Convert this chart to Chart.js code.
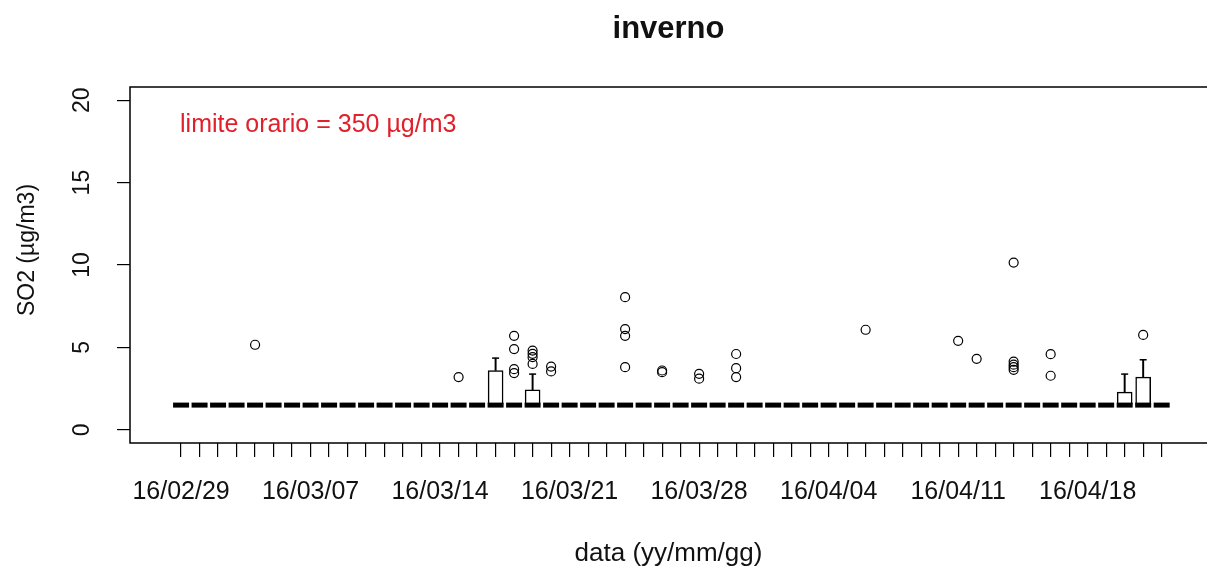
<!DOCTYPE html>
<html>
<head>
<meta charset="utf-8">
<script src="https://cdn.jsdelivr.net/npm/chart.js@4.4.1/dist/chart.umd.min.js"></script>
<style>
  body { margin: 0; background: #fff; }
</style>
</head>
<body>
<canvas id="myChart" width="1207" height="571"></canvas>
<script>
// one category per day, 16/02/29 .. 16/04/22
const days = [
  "16/02/29",
  "16/03/01", "16/03/02", "16/03/03", "16/03/04", "16/03/05", "16/03/06", "16/03/07",
  "16/03/08", "16/03/09", "16/03/10", "16/03/11", "16/03/12", "16/03/13", "16/03/14",
  "16/03/15", "16/03/16", "16/03/17", "16/03/18", "16/03/19", "16/03/20", "16/03/21",
  "16/03/22", "16/03/23", "16/03/24", "16/03/25", "16/03/26", "16/03/27", "16/03/28",
  "16/03/29", "16/03/30", "16/03/31",
  "16/04/01", "16/04/02", "16/04/03", "16/04/04", "16/04/05", "16/04/06", "16/04/07",
  "16/04/08", "16/04/09", "16/04/10", "16/04/11", "16/04/12", "16/04/13", "16/04/14",
  "16/04/15", "16/04/16", "16/04/17", "16/04/18", "16/04/19", "16/04/20", "16/04/21",
  "16/04/22"
];

// daily medians (most days are flat at the detection limit)
const medians = [
  1.5,
  1.5, 1.5, 1.5, 1.5, 1.5, 1.5, 1.5,
  1.5, 1.5, 1.5, 1.5, 1.5, 1.5, 1.5,
  1.5, 1.5, 1.5, 1.5, 1.5, 1.5, 1.5,
  1.5, 1.5, 1.5, 1.5, 1.5, 1.5, 1.5,
  1.5, 1.5, 1.5,
  1.5, 1.5, 1.5, 1.5, 1.5, 1.5, 1.5,
  1.5, 1.5, 1.5, 1.5, 1.5, 1.5, 1.5,
  1.5, 1.5, 1.5, 1.5, 1.5, 1.5, 1.5,
  1.5
];

// days whose box is not flat (index into days)
const boxDays = [17, 19, 51, 52];
const boxQ1 = [1.5, 1.5, 1.5, 1.5];
const boxQ3 = [3.6, 2.43, 2.29, 3.2];
const whiskerTop = [4.35, 3.38, 3.38, 4.25];

// outliers
const outlierDays = [
  4, 15,
  18, 18, 18, 18,
  19, 19, 19, 19,
  20, 20,
  24, 24, 24, 24,
  26, 26,
  28, 28,
  30, 30, 30,
  37, 42, 43,
  45, 45, 45, 45, 45,
  47, 47,
  52
];
const outlierValues = [
  5.16, 3.2,
  5.7, 4.9, 3.68, 3.44,
  4.81, 4.61, 4.41, 4.0,
  3.84, 3.54,
  8.05, 6.11, 5.7, 3.8,
  3.6, 3.5,
  3.4, 3.1,
  4.6, 3.74, 3.2,
  6.07, 5.4, 4.31,
  10.15, 4.14, 3.95, 3.8, 3.64,
  4.59, 3.28,
  5.76
];

const yTicks = [0, 5, 10, 15, 20];
const labelEvery = 7;

const medianData = medians.map((v, i) => ({ x: i, y: v }));
const boxData = boxDays.map((d, i) => ({ x: d, y: [boxQ1[i], boxQ3[i]] }));
const whiskerData = boxDays.map((d, i) => ({ x: d, y: [boxQ3[i], whiskerTop[i]] }));
const capData = boxDays.map((d, i) => ({ x: d, y: whiskerTop[i] }));
const outlierData = outlierDays.map((d, i) => ({ x: d, y: outlierValues[i] }));

const FONT = "Liberation Sans, Arial, sans-serif";

// frame, titles, rotated y labels and the red note
const textPlugin = {
  id: "rText",
  afterDraw(chart) {
    const { ctx, chartArea: a, scales: { x, y } } = chart;
    ctx.save();
    ctx.strokeStyle = "#000";
    ctx.lineWidth = 1.5;
    ctx.beginPath();
    ctx.moveTo(a.right + 2, a.top);
    ctx.lineTo(a.left, a.top);
    ctx.lineTo(a.left, a.bottom);
    ctx.lineTo(a.right + 2, a.bottom);
    ctx.stroke();

    const midX = (a.left + a.right) / 2;
    ctx.fillStyle = "#111";
    ctx.textAlign = "center";
    ctx.textBaseline = "alphabetic";
    ctx.font = "bold 31px " + FONT;
    ctx.fillText("inverno", midX, 38);

    ctx.font = "26px " + FONT;
    ctx.fillText("data (yy/mm/gg)", midX, 561);

    ctx.font = "23px " + FONT;
    yTicks.forEach(v => {
      ctx.save();
      ctx.translate(89, y.getPixelForValue(v));
      ctx.rotate(-Math.PI / 2);
      ctx.fillText(String(v), 0, 0);
      ctx.restore();
    });

    ctx.save();
    ctx.translate(34, 250);
    ctx.rotate(-Math.PI / 2);
    ctx.fillText("SO2 (µg/m3)", 0, 0);
    ctx.restore();

    ctx.fillStyle = "#e0202a";
    ctx.textAlign = "left";
    ctx.font = "25px " + FONT;
    ctx.fillText("limite orario = 350 µg/m3", x.getPixelForValue(0) - 1, y.getPixelForValue(18) - 1);
    ctx.restore();
  }
};

new Chart("myChart", {
  type: "bar",
  data: {
    datasets: [
      {
        type: "line", data: medianData, showLine: false,
        pointStyle: "line", pointRadius: 8, pointBorderWidth: 5,
        pointBorderColor: "#000", order: 0
      },
      {
        type: "bar", data: boxData, backgroundColor: "#fff",
        borderColor: "#000", borderWidth: 1.5, borderSkipped: false,
        barThickness: 15, grouped: false, order: 1
      },
      {
        type: "bar", data: whiskerData, backgroundColor: "#000",
        borderWidth: 0, barThickness: 1.3, grouped: false, order: 2
      },
      {
        type: "line", data: capData, showLine: false,
        pointStyle: "line", pointRadius: 3.5, pointBorderWidth: 1.5,
        pointBorderColor: "#000", order: 3
      },
      {
        type: "line", data: outlierData, showLine: false,
        pointStyle: "circle", pointRadius: 4.5, pointBorderWidth: 1.2,
        pointBorderColor: "#000", pointBackgroundColor: "rgba(0,0,0,0)", order: 4
      }
    ]
  },
  options: {
    responsive: false,
    devicePixelRatio: 1,
    animation: false,
    events: [],
    // the right side of the R plot frame runs up to the image edge
    layout: { autoPadding: false, padding: { top: 87, right: 0, left: 0, bottom: 0 } },
    plugins: {
      legend: { display: false },
      title: { display: false },
      tooltip: { enabled: false }
    },
    scales: {
      x: {
        type: "linear",
        min: -2.76,
        max: 55.45,
        offset: false,
        afterBuildTicks: s => { s.ticks = days.map((d, i) => ({ value: i })); },
        afterFit: s => { s.height = 128; s.paddingLeft = 0; s.paddingRight = 0; },
        ticks: {
          autoSkip: false, maxRotation: 0, minRotation: 0, padding: 20,
          color: "#111", font: { family: FONT, size: 25 },
          callback: (v, i) => (i % labelEvery === 0 ? days[i] : "")
        },
        grid: { drawOnChartArea: false, drawTicks: true, tickLength: 14, color: "#000", lineWidth: 1.2, offset: false },
        border: { display: false }
      },
      y: {
        type: "linear",
        min: -0.8,
        max: 20.8,
        afterBuildTicks: s => { s.ticks = yTicks.map(v => ({ value: v })); },
        afterFit: s => { s.width = 130; },
        ticks: { display: false },
        grid: { drawOnChartArea: false, drawTicks: true, tickLength: 13, color: "#000", lineWidth: 1.2 },
        border: { display: false }
      }
    }
  },
  plugins: [textPlugin]
});
</script>
</body>
</html>
